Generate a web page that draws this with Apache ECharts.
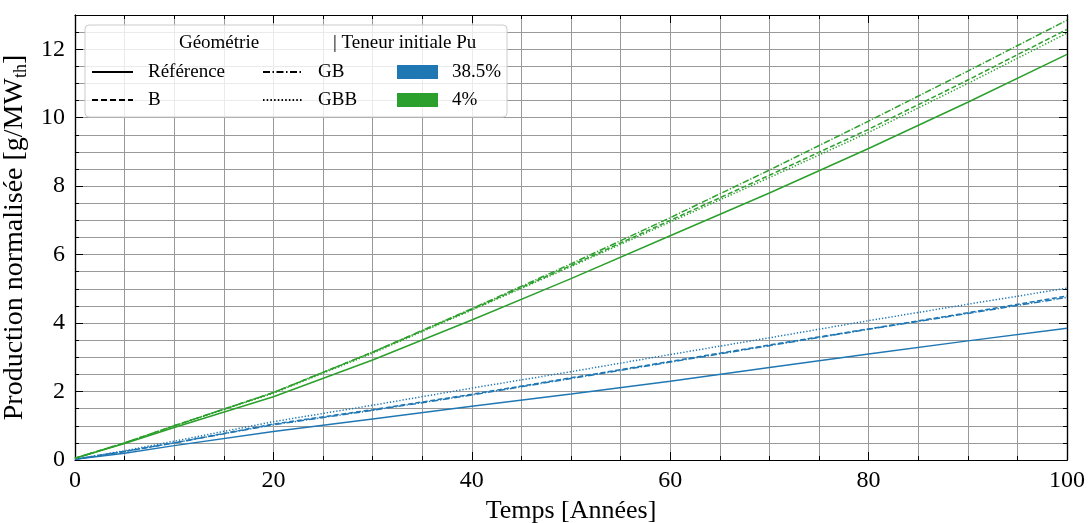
<!DOCTYPE html>
<html><head><meta charset="utf-8">
<script src="https://cdn.jsdelivr.net/npm/echarts@6/dist/echarts.min.js"></script>
<style>html,body{margin:0;padding:0;background:#fff}#c{width:1089px;height:523px}</style>
</head><body><div id="c"></div>
<script>
const years = [0, 5, 10, 20, 30, 40, 50, 60, 70, 80, 90, 100];
// Teneur initiale Pu 38.5% (blue)
const blue_ref = [0.02, 0.2, 0.42, 0.83, 1.2, 1.57, 1.93, 2.3, 2.7, 3.1, 3.48, 3.85];
const blue_B   = [0.02, 0.25, 0.5, 1.05, 1.47, 1.92, 2.4, 2.88, 3.36, 3.83, 4.3, 4.79];
const blue_GB  = [0.02, 0.25, 0.5, 1.03, 1.45, 1.9, 2.38, 2.86, 3.34, 3.82, 4.28, 4.75];
const blue_GBB = [0.02, 0.27, 0.55, 1.12, 1.6, 2.1, 2.58, 3.08, 3.57, 4.07, 4.55, 5.02];
// Teneur initiale Pu 4% (green)
const green_ref = [0.05, 0.48, 0.95, 1.85, 2.92, 4.09, 5.3, 6.55, 7.8, 9.1, 10.45, 11.85];
const green_B   = [0.05, 0.5, 1.0, 1.97, 3.15, 4.4, 5.68, 7.0, 8.32, 9.66, 11.1, 12.58];
const green_GB  = [0.05, 0.5, 1.0, 1.97, 3.15, 4.42, 5.73, 7.08, 8.47, 9.9, 11.36, 12.85];
const green_GBB = [0.05, 0.5, 0.99, 1.95, 3.12, 4.38, 5.65, 6.95, 8.25, 9.57, 11.0, 12.47];

const xTicks = [0, 20, 40, 60, 80, 100];
const yTicks = [0, 2, 4, 6, 8, 10, 12];

const FONT = '"Liberation Serif", "DejaVu Serif", serif';
const BLUE = '#1f77b4', GREEN = '#2ca02c';
const DASH = {solid: 'solid', B: [5, 2.5], GB: [6.5, 1.8, 1.2, 1.8], GBB: [1.3, 1.9]};

function mk(name, vals, color, type) {
  return {
    name: name, type: 'line', showSymbol: false, symbol: 'none',
    xAxisIndex: 0, yAxisIndex: 0,
    data: years.map((x, i) => [x, vals[i]]),
    lineStyle: {color: color, width: 1.5, type: type},
    z: 3, animation: false
  };
}

const gridLine = {show: true, lineStyle: {color: '#999', width: 1}};
const axisLine = {show: true, onZero: false, lineStyle: {color: '#000', width: 1.2}};

function xAx(pos, labels) {
  return {
    type: 'value', position: pos, min: 0, max: 100, interval: 20,
    axisLine: axisLine,
    axisTick: {show: true, inside: true, length: 8, lineStyle: {color: '#000', width: 1}},
    minorTick: {show: true, splitNumber: 4, length: 4, lineStyle: {color: '#000', width: 1}},
    axisLabel: labels ? {show: true, margin: 9, color: '#000', fontSize: 24, fontFamily: FONT,
      formatter: v => xTicks.includes(v) ? String(v) : ''} : {show: false},
    splitLine: labels ? gridLine : {show: false},
    minorSplitLine: labels ? gridLine : {show: false},
    name: labels ? 'Temps [Années]' : '',
    nameLocation: 'middle', nameGap: 35,
    nameTextStyle: {color: '#000', fontSize: 26, fontFamily: FONT}
  };
}
function yMinor(pos, grid) {
  return {
    type: 'value', position: pos, min: 0, max: 13, interval: 0.5,
    axisLine: axisLine,
    axisTick: {show: true, inside: true, length: 4, lineStyle: {color: '#000', width: 1}},
    axisLabel: {show: false},
    splitLine: grid ? gridLine : {show: false}
  };
}
function yMajor(pos, labels) {
  return {
    type: 'value', position: pos, min: 0, max: 13, interval: 2,
    axisLine: axisLine,
    axisTick: {show: true, inside: true, length: 8, lineStyle: {color: '#000', width: 1}},
    axisLabel: labels ? {show: true, margin: 10, color: '#000', fontSize: 24, fontFamily: FONT,
      formatter: v => yTicks.includes(v) ? String(v) : ''} : {show: false},
    splitLine: {show: false},
    name: labels ? '{a|Production normalisée [g/MW}{s|th}{a|]}' : '',
    nameLocation: 'middle', nameGap: 27, nameRotate: 90,
    nameTextStyle: {color: '#000', fontFamily: FONT,
      rich: {a: {fontSize: 28, fontFamily: FONT, color: '#000', lineHeight: 32},
             s: {fontSize: 18, fontFamily: FONT, color: '#000', lineHeight: 32, padding: [13, 0, 0, 0]}}}
  };
}

const g = [];
g.push({type: 'rect', shape: {x: 85, y: 25, width: 422, height: 92, r: 4},
  style: {fill: 'rgba(255,255,255,0.8)', stroke: '#cccccc', lineWidth: 1}, z: 10});
function txt(x, y, s, align) {
  g.push({type: 'text', x: x, y: y, z: 11,
    style: {text: s, fill: '#000', font: '19px ' + FONT, textAlign: align || 'left', textVerticalAlign: 'middle'}});
}
function seg(x1, x2, y, dash) {
  g.push({type: 'line', shape: {x1: x1, y1: y, x2: x2, y2: y}, z: 11,
    style: {stroke: '#000', lineWidth: 1.8, lineDash: dash === 'solid' ? null : dash}});
}
txt(219, 43, 'Géométrie', 'center');
txt(333, 43, '| Teneur initiale Pu');
seg(92, 133, 72, 'solid'); txt(148, 72, 'Référence');
seg(92, 133, 100, [6, 3]); txt(148, 100, 'B');
seg(263, 303, 72, [7, 2.5, 1.5, 2.5]); txt(318, 72, 'GB');
seg(263, 303, 100, [1.5, 2.2]); txt(318, 100, 'GBB');
g.push({type: 'rect', shape: {x: 397, y: 65, width: 41, height: 14}, style: {fill: BLUE}, z: 11});
txt(452, 72, '38.5%');
g.push({type: 'rect', shape: {x: 397, y: 93, width: 41, height: 14}, style: {fill: GREEN}, z: 11});
txt(452, 100, '4%');

const chart = echarts.init(document.getElementById('c'), null, {renderer: 'canvas'});
chart.setOption({
  animation: false,
  backgroundColor: '#fff',
  grid: {left: 75, right: 22, top: 15, bottom: 63, containLabel: false, outerBoundsMode: 'none'},
  xAxis: [xAx('bottom', true), xAx('top', false)],
  yAxis: [yMinor('left', true), yMajor('left', true), yMinor('right', false), yMajor('right', false)],
  series: [
    mk('38.5% Référence', blue_ref, BLUE, DASH.solid),
    mk('38.5% B', blue_B, BLUE, DASH.B),
    mk('38.5% GB', blue_GB, BLUE, DASH.GB),
    mk('38.5% GBB', blue_GBB, BLUE, DASH.GBB),
    mk('4% Référence', green_ref, GREEN, DASH.solid),
    mk('4% B', green_B, GREEN, DASH.B),
    mk('4% GB', green_GB, GREEN, DASH.GB),
    mk('4% GBB', green_GBB, GREEN, DASH.GBB)
  ],
  graphic: g
});
</script></body></html>
